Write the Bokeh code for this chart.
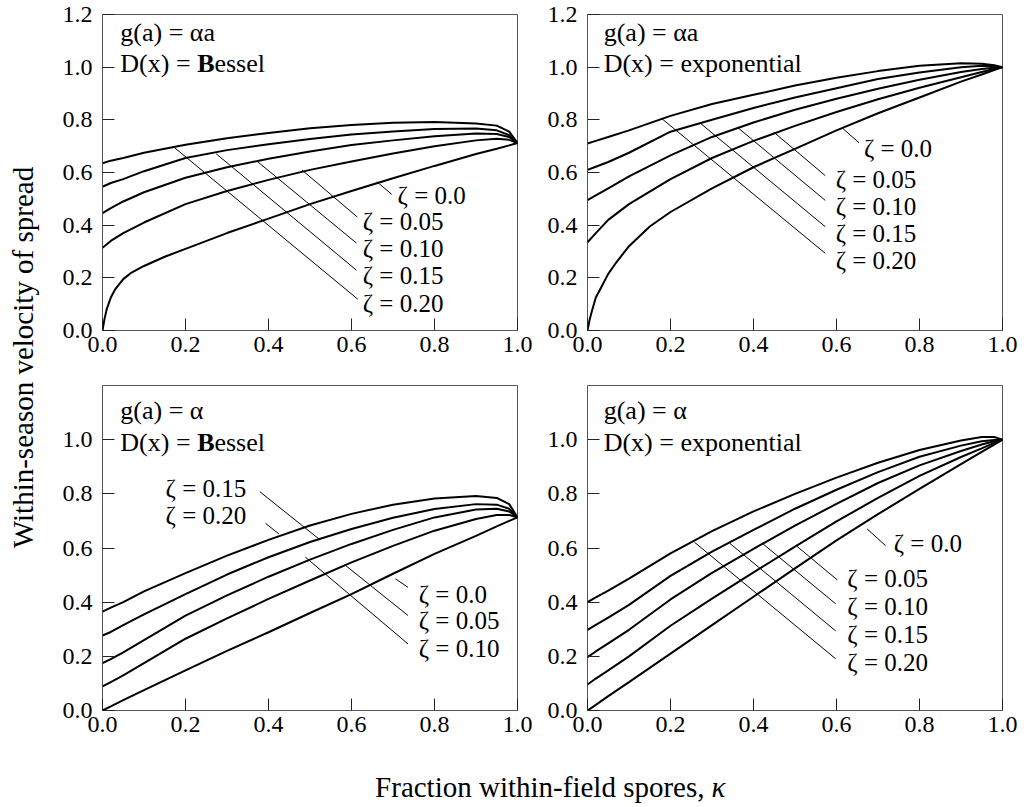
import math
from bokeh.plotting import figure
from bokeh.models import Range1d, FixedTicker, Label, PrintfTickFormatter
from bokeh.layouts import row, column
from bokeh.core.properties import value
from bokeh.embed import file_html
from bokeh.resources import INLINE

FONT = "Liberation Serif"

# ---------------- data ----------------
kappa = [0, 0.02, 0.05, 0.1, 0.2, 0.3, 0.4, 0.5, 0.6, 0.7, 0.8, 0.9, 0.95, 0.98, 1.0]
kappa_z0 = [0, 0.005, 0.01, 0.02, 0.03, 0.05, 0.07, 0.1, 0.15, 0.2, 0.3, 0.4, 0.5, 0.6, 0.7, 0.8, 0.9, 0.95, 0.98, 1.0]
zeta_labels = ["ζ = 0.0", "ζ = 0.05", "ζ = 0.10", "ζ = 0.15", "ζ = 0.20"]

# g(a)=alpha*a, D(x)=Bessel   (zeta = 0.0 sampled on kappa_z0)
tl_z00 = [0.0, 0.045, 0.08, 0.125, 0.155, 0.195, 0.22, 0.245, 0.28, 0.31, 0.37, 0.425, 0.48, 0.53, 0.578, 0.625, 0.67, 0.69, 0.703, 0.712]
tl_z05 = [0.314, 0.34, 0.37, 0.41, 0.48, 0.53, 0.572, 0.61, 0.642, 0.672, 0.70, 0.722, 0.728, 0.724, 0.712]
tl_z10 = [0.446, 0.465, 0.49, 0.525, 0.58, 0.62, 0.652, 0.68, 0.704, 0.722, 0.738, 0.748, 0.746, 0.735, 0.712]
tl_z15 = [0.546, 0.56, 0.575, 0.605, 0.655, 0.685, 0.707, 0.727, 0.744, 0.756, 0.765, 0.767, 0.76, 0.742, 0.712]
tl_z20 = [0.635, 0.645, 0.655, 0.675, 0.705, 0.73, 0.75, 0.768, 0.78, 0.789, 0.792, 0.786, 0.778, 0.755, 0.712]

# g(a)=alpha*a, D(x)=exponential   (zeta = 0.0 sampled on kappa_z0)
tr_z00 = [0.0, 0.04, 0.07, 0.125, 0.155, 0.215, 0.26, 0.32, 0.395, 0.45, 0.54, 0.62, 0.69, 0.76, 0.825, 0.885, 0.945, 0.972, 0.989, 1.0]
tr_z05 = [0.335, 0.37, 0.42, 0.48, 0.575, 0.655, 0.72, 0.777, 0.83, 0.878, 0.922, 0.962, 0.982, 0.993, 1.0]
tr_z10 = [0.495, 0.513, 0.54, 0.585, 0.665, 0.735, 0.79, 0.838, 0.88, 0.918, 0.952, 0.982, 0.993, 0.998, 1.0]
tr_z15 = [0.61, 0.622, 0.64, 0.675, 0.755, 0.80, 0.845, 0.885, 0.92, 0.955, 0.98, 1.0, 1.005, 1.003, 1.0]
tr_z20 = [0.71, 0.72, 0.735, 0.76, 0.815, 0.86, 0.895, 0.93, 0.96, 0.985, 1.005, 1.015, 1.013, 1.007, 1.0]

# g(a)=alpha, D(x)=Bessel
bl_z00 = [0.0, 0.015, 0.038, 0.075, 0.148, 0.22, 0.289, 0.36, 0.43, 0.505, 0.578, 0.645, 0.68, 0.70, 0.713]
bl_z05 = [0.089, 0.105, 0.13, 0.175, 0.265, 0.34, 0.412, 0.48, 0.547, 0.608, 0.664, 0.707, 0.722, 0.722, 0.713]
bl_z10 = [0.175, 0.19, 0.215, 0.26, 0.35, 0.425, 0.494, 0.557, 0.615, 0.667, 0.713, 0.742, 0.745, 0.735, 0.713]
bl_z15 = [0.277, 0.29, 0.315, 0.355, 0.43, 0.502, 0.566, 0.622, 0.67, 0.712, 0.744, 0.762, 0.76, 0.745, 0.713]
bl_z20 = [0.365, 0.38, 0.40, 0.44, 0.507, 0.572, 0.63, 0.683, 0.726, 0.76, 0.783, 0.792, 0.785, 0.762, 0.713]

# g(a)=alpha, D(x)=exponential
br_z00 = [0.0, 0.021, 0.053, 0.105, 0.21, 0.315, 0.42, 0.525, 0.628, 0.725, 0.818, 0.91, 0.955, 0.982, 1.0]
br_z05 = [0.096, 0.118, 0.148, 0.2, 0.313, 0.413, 0.51, 0.605, 0.698, 0.785, 0.866, 0.936, 0.968, 0.988, 1.0]
br_z10 = [0.197, 0.218, 0.248, 0.298, 0.41, 0.508, 0.597, 0.683, 0.763, 0.84, 0.905, 0.958, 0.982, 0.994, 1.0]
br_z15 = [0.298, 0.316, 0.343, 0.39, 0.497, 0.587, 0.667, 0.745, 0.815, 0.88, 0.937, 0.978, 0.994, 0.999, 1.0]
br_z20 = [0.40, 0.418, 0.443, 0.487, 0.58, 0.662, 0.735, 0.80, 0.86, 0.915, 0.962, 0.997, 1.01, 1.01, 1.0]

# leader lines (curve point -> label) and label anchors, order zeta 0.0..0.20
tl_lead_x0 = [0.661, 0.481, 0.373, 0.274, 0.173]
tl_lead_y0 = [0.565, 0.609, 0.642, 0.671, 0.695]
tl_lead_x1 = [0.697, 0.614, 0.612, 0.612, 0.615]
tl_lead_y1 = [0.517, 0.431, 0.332, 0.229, 0.119]
tl_lab_x = [0.711, 0.627, 0.627, 0.627, 0.627]
tl_lab_y = [0.513, 0.413, 0.31, 0.207, 0.103]

tr_lead_x0 = [0.614, 0.449, 0.361, 0.272, 0.178]
tr_lead_y0 = [0.769, 0.753, 0.772, 0.787, 0.806]
tr_lead_x1 = [0.654, 0.573, 0.573, 0.573, 0.573]
tr_lead_y1 = [0.713, 0.588, 0.494, 0.394, 0.293]
tr_lab_x = [0.666, 0.598, 0.598, 0.598, 0.598]
tr_lab_y = [0.691, 0.572, 0.471, 0.369, 0.265]

bl_lead_x0 = [0.706, 0.586, 0.489, 0.521, 0.425]
bl_lead_y0 = [0.486, 0.535, 0.566, 0.634, 0.652]
bl_lead_x1 = [0.736, 0.736, 0.736, 0.379, 0.393]
bl_lead_y1 = [0.455, 0.351, 0.246, 0.808, 0.691]
bl_lab_x = [0.762, 0.762, 0.762, 0.152, 0.152]
bl_lab_y = [0.43, 0.332, 0.228, 0.818, 0.72]

br_lead_x0 = [0.674, 0.505, 0.423, 0.343, 0.258]
br_lead_y0 = [0.670, 0.606, 0.615, 0.617, 0.621]
br_lead_x1 = [0.718, 0.602, 0.598, 0.598, 0.598]
br_lead_y1 = [0.609, 0.482, 0.394, 0.294, 0.191]
br_lab_x = [0.738, 0.626, 0.626, 0.626, 0.626]
br_lab_y = [0.615, 0.486, 0.384, 0.28, 0.178]

x_ticks = [0.0, 0.2, 0.4, 0.6, 0.8, 1.0]
x_tick_labels = ["0.0", "0.2", "0.4", "0.6", "0.8", "1.0"]
y_ticks_top = [0.0, 0.2, 0.4, 0.6, 0.8, 1.0, 1.2]
y_tick_labels_top = ["0.0", "0.2", "0.4", "0.6", "0.8", "1.0", "1.2"]
y_ticks_bottom = [0.0, 0.2, 0.4, 0.6, 0.8, 1.0]
y_tick_labels_bottom = ["0.0", "0.2", "0.4", "0.6", "0.8", "1.0"]

ga_texts = ["g(a) = αa", "g(a) = αa", "g(a) = α", "g(a) = α"]
dx_kinds = ["Bessel", "exponential", "Bessel", "exponential"]

y_title = "Within-season velocity of spread"
x_title = "Fraction within-field spores,"
x_title_symbol = "κ"


def make_panel(curves, lead, labs, yt, ytl, ga, dx, ann_x, ann_y, w, h, bl, br, bt, bb):
    p = figure(width=w, height=h, x_range=Range1d(0, 1), y_range=Range1d(0, 1.2),
               output_backend="svg", toolbar_location=None, title=None,
               min_border_left=bl, min_border_right=br, min_border_top=bt, min_border_bottom=bb)
    p.grid.visible = False
    p.outline_line_color = "#555555"
    p.outline_line_width = 1
    p.background_fill_color = "white"
    p.border_fill_color = "white"

    p.xaxis.ticker = FixedTicker(ticks=x_ticks)
    p.xaxis.formatter = PrintfTickFormatter(format="%.1f")
    p.xaxis.major_label_overrides = dict(zip(x_ticks, x_tick_labels))
    p.yaxis.ticker = FixedTicker(ticks=yt)
    p.yaxis.formatter = PrintfTickFormatter(format="%.1f")
    p.yaxis.major_label_overrides = dict(zip(yt, ytl))
    for ax in (p.xaxis[0], p.yaxis[0]):
        ax.axis_line_color = None
        ax.major_tick_in = 12
        ax.major_tick_out = 0
        ax.minor_tick_line_color = None
        ax.major_tick_line_color = "#222222"
        ax.major_tick_line_width = 1
        ax.major_label_text_font = FONT
        ax.major_label_text_font_size = "24px"
        ax.major_label_text_color = "black"
    p.xaxis.major_label_standoff = 6
    p.yaxis.major_label_standoff = 10

    for xs, ys in curves:
        p.line(xs, ys, line_color="black", line_width=2)

    x0, y0, x1, y1 = lead
    p.segment(x0=x0, y0=y0, x1=x1, y1=y1, line_color="black", line_width=1)
    lx, ly = labs
    p.text(x=lx, y=ly, text=zeta_labels, text_font=value(FONT), text_font_size="25px",
           text_baseline="middle", text_align="left", text_color="black")

    fs = "26px"
    p.add_layout(Label(x=ann_x, y=ann_y[0], text=ga, text_font=FONT, text_font_size=fs,
                       text_baseline="middle", text_color="black"))
    if dx == "Bessel":
        p.add_layout(Label(x=ann_x, y=ann_y[1], text="D(x) = ", text_font=FONT, text_font_size=fs,
                           text_baseline="middle", text_color="black"))
        p.add_layout(Label(x=ann_x, y=ann_y[1], x_offset=76.8, text="B", text_font=FONT,
                           text_font_size=fs, text_font_style="bold",
                           text_baseline="middle", text_color="black"))
        p.add_layout(Label(x=ann_x, y=ann_y[1], x_offset=94.1, text="essel", text_font=FONT,
                           text_font_size=fs, text_baseline="middle", text_color="black"))
    else:
        p.add_layout(Label(x=ann_x, y=ann_y[1], text="D(x) = " + dx, text_font=FONT,
                           text_font_size=fs, text_baseline="middle", text_color="black"))
    return p


YW = 40
TOP_H = 14 + 316 + 47
BOT_H = 8 + 325 + 36
LW = 62 + 415 + 18
RW = 52 + 415 + 16

p_tl = make_panel([(kappa_z0, tl_z00), (kappa, tl_z05), (kappa, tl_z10), (kappa, tl_z15), (kappa, tl_z20)],
                  (tl_lead_x0, tl_lead_y0, tl_lead_x1, tl_lead_y1), (tl_lab_x, tl_lab_y),
                  y_ticks_top, y_tick_labels_top, ga_texts[0], dx_kinds[0], 0.043, [1.132, 1.014],
                  LW, TOP_H, 62, 18, 14, 47)
p_tr = make_panel([(kappa_z0, tr_z00), (kappa, tr_z05), (kappa, tr_z10), (kappa, tr_z15), (kappa, tr_z20)],
                  (tr_lead_x0, tr_lead_y0, tr_lead_x1, tr_lead_y1), (tr_lab_x, tr_lab_y),
                  y_ticks_top, y_tick_labels_top, ga_texts[1], dx_kinds[1], 0.039, [1.132, 1.014],
                  RW, TOP_H, 52, 16, 14, 47)
p_bl = make_panel([(kappa, bl_z00), (kappa, bl_z05), (kappa, bl_z10), (kappa, bl_z15), (kappa, bl_z20)],
                  (bl_lead_x0, bl_lead_y0, bl_lead_x1, bl_lead_y1), (bl_lab_x, bl_lab_y),
                  y_ticks_bottom, y_tick_labels_bottom, ga_texts[2], dx_kinds[2], 0.043, [1.107, 0.99],
                  LW, BOT_H, 62, 18, 8, 36)
p_br = make_panel([(kappa, br_z00), (kappa, br_z05), (kappa, br_z10), (kappa, br_z15), (kappa, br_z20)],
                  (br_lead_x0, br_lead_y0, br_lead_x1, br_lead_y1), (br_lab_x, br_lab_y),
                  y_ticks_bottom, y_tick_labels_bottom, ga_texts[3], dx_kinds[3], 0.039, [1.107, 0.99],
                  RW, BOT_H, 52, 16, 8, 36)

# y-axis title strip
YH = TOP_H + BOT_H
p_y = figure(width=YW, height=YH, x_range=Range1d(0, YW), y_range=Range1d(0, YH),
             output_backend="svg", toolbar_location=None, title=None,
             x_axis_location=None, y_axis_location=None, min_border=0)
p_y.grid.visible = False
p_y.outline_line_color = None
p_y.text(x=[22], y=[YH - 357], text=[y_title], angle=math.pi / 2, text_font=value(FONT),
         text_font_size="29px", text_align="center", text_baseline="middle", text_color="black")

# x-axis title strip
XW = YW + LW + RW
XH = 58
p_x = figure(width=XW, height=XH, x_range=Range1d(0, XW), y_range=Range1d(0, XH),
             output_backend="svg", toolbar_location=None, title=None,
             x_axis_location=None, y_axis_location=None, min_border=0)
p_x.grid.visible = False
p_x.outline_line_color = None
p_x.text(x=[704], y=[18], text=[x_title], text_font=value(FONT), text_font_size="29px",
         text_align="right", text_baseline="middle", text_color="black")
p_x.text(x=[711], y=[18], text=[x_title_symbol], text_font=value(FONT), text_font_size="29px",
         text_font_style="italic", text_align="left", text_baseline="middle", text_color="black")

layout = column(row(p_y, column(row(p_tl, p_tr), row(p_bl, p_br))), p_x)

open("out.html", "w").write(file_html(layout, INLINE))
